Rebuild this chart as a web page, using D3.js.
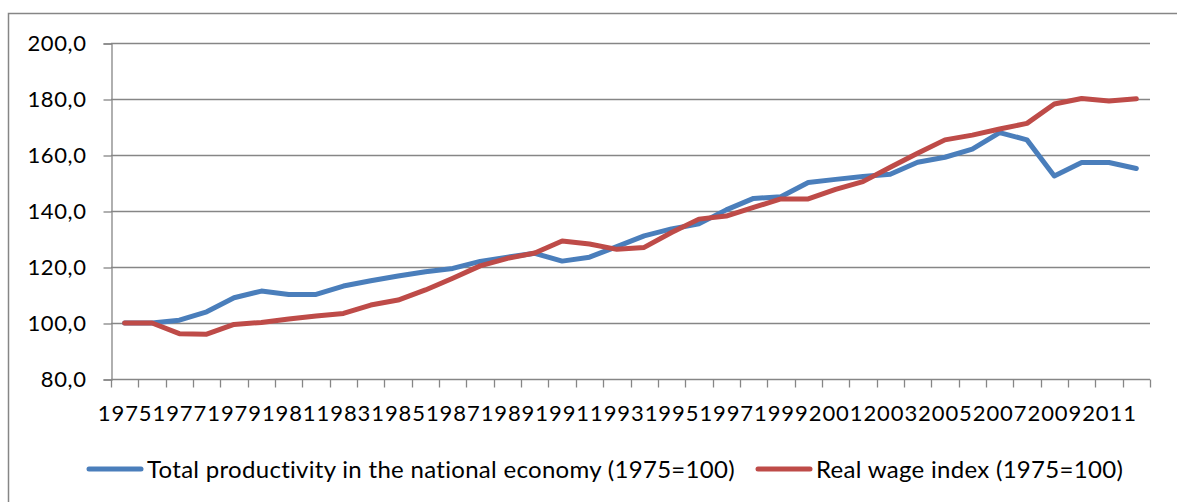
<!DOCTYPE html>
<html>
<head>
<meta charset="utf-8">
<script src="https://cdn.jsdelivr.net/npm/d3@7"></script>
<style>
  html, body { margin: 0; padding: 0; background: #fff; }
  svg { display: block; font-family: Lato, "Open Sans", sans-serif; }
</style>
</head>
<body>
<svg id="chart" width="1177" height="502"></svg>
<script>
const years = d3.range(1975, 2013).map(String);
const tickYears = years.filter((d, i) => i % 2 === 0);
const productivity = [100, 100, 101, 104, 109, 111.4, 110.2, 110.2, 113.2, 115.1,
  116.8, 118.3, 119.5, 122, 123.5, 124.9, 122.1, 123.5, 127.3, 131.1,
  133.6, 135.4, 140.4, 144.5, 145.1, 150.2, 151.3, 152.3, 153.1, 157.4,
  159.2, 162.1, 168, 165.4, 152.5, 157.3, 157.3, 155.2];
const wages = [100, 100, 96.2, 96, 99.5, 100.2, 101.4, 102.5, 103.4, 106.4,
  108.2, 111.8, 116, 120.4, 123.1, 125, 129.3, 128.2, 126.3, 127,
  132.3, 137.1, 138.2, 141.3, 144.3, 144.3, 147.7, 150.5, 155.6, 160.6,
  165.4, 167.1, 169.3, 171.3, 178.2, 180.2, 179.3, 180.1];
const yTicks = [80, 100, 120, 140, 160, 180, 200];
const seriesNames = ["Total productivity in the national economy (1975=100)", "Real wage index (1975=100)"];
const seriesColors = ["#4a7ebb", "#be4b48"];

const svg = d3.select("#chart");
const mLeft = 111, mRight = 1150, mTop = 43, mBottom = 379;
const gray = "#868686";

// outer frame
svg.append("path")
  .attr("d", `M8.5,510 V13.5 H1190`)
  .attr("fill", "none").attr("stroke", gray).attr("stroke-width", 1.5);

const x = d3.scaleBand().domain(years).range([mLeft, mRight]).padding(0);
const y = d3.scaleLinear().domain([80, 200]).range([mBottom, mTop]);

// gridlines
svg.append("g").selectAll("line").data(yTicks.filter(d => d !== 80)).join("line")
  .attr("x1", mLeft).attr("x2", mRight)
  .attr("y1", d => Math.round(y(d)) + 0.5).attr("y2", d => Math.round(y(d)) + 0.5)
  .attr("stroke", gray).attr("stroke-width", 1.3);

// y axis
const yAxis = d3.axisLeft(y).tickValues(yTicks).tickSize(8).tickPadding(17)
  .tickFormat(d => d3.format(".1f")(d).replace(".", ","));
const gy = svg.append("g").attr("transform", `translate(${mLeft + 0.5},0.5)`).call(yAxis);
gy.select(".domain").attr("stroke", gray).attr("stroke-width", 1.3);
gy.selectAll(".tick line").attr("stroke", gray).attr("stroke-width", 1.3);
gy.selectAll(".tick text").attr("font-size", 22).attr("fill", "#000")
  .attr("font-family", "Lato").attr("letter-spacing", 0.6);

// x axis: ticks at category boundaries
const gx = svg.append("g").attr("transform", `translate(0,${mBottom + 0.5})`);
gx.append("line").attr("x1", mLeft).attr("x2", mRight).attr("stroke", gray).attr("stroke-width", 1.3);
const bounds = years.map(d => x(d)).concat([mRight]);
gx.selectAll("line.tk").data(bounds).join("line").attr("class", "tk")
  .attr("x1", d => Math.round(d) + 0.5).attr("x2", d => Math.round(d) + 0.5)
  .attr("y1", 0).attr("y2", 8).attr("stroke", gray).attr("stroke-width", 1.3);
gx.selectAll("text").data(tickYears).join("text")
  .attr("x", d => x(d) + x.bandwidth() / 2 + 0.5)
  .attr("y", 41)
  .attr("text-anchor", "middle")
  .attr("font-size", 22).attr("letter-spacing", 0.9).attr("fill", "#000")
  .text(d => d);

// lines
const line = d3.line().x((d, i) => x(years[i]) + x.bandwidth() / 2).y(d => y(d));
[productivity, wages].forEach((s, k) => {
  svg.append("path").datum(s)
    .attr("d", line)
    .attr("fill", "none")
    .attr("stroke", seriesColors[k])
    .attr("stroke-width", 5)
    .attr("stroke-linejoin", "round")
    .attr("stroke-linecap", "round");
});

// legend
const legendItems = [
  { name: seriesNames[0], color: seriesColors[0], x0: 89, x1: 141, tx: 147 },
  { name: seriesNames[1], color: seriesColors[1], x0: 758, x1: 810, tx: 816 }
];
const lg = svg.append("g");
legendItems.forEach(it => {
  lg.append("line").attr("x1", it.x0).attr("x2", it.x1).attr("y1", 469).attr("y2", 469)
    .attr("stroke", it.color).attr("stroke-width", 5).attr("stroke-linecap", "round");
  lg.append("text").attr("x", it.tx).attr("y", 478)
    .attr("font-size", 24).attr("fill", "#000").attr("letter-spacing", 0.3)
    .text(it.name);
});
</script>
</body>
</html>
